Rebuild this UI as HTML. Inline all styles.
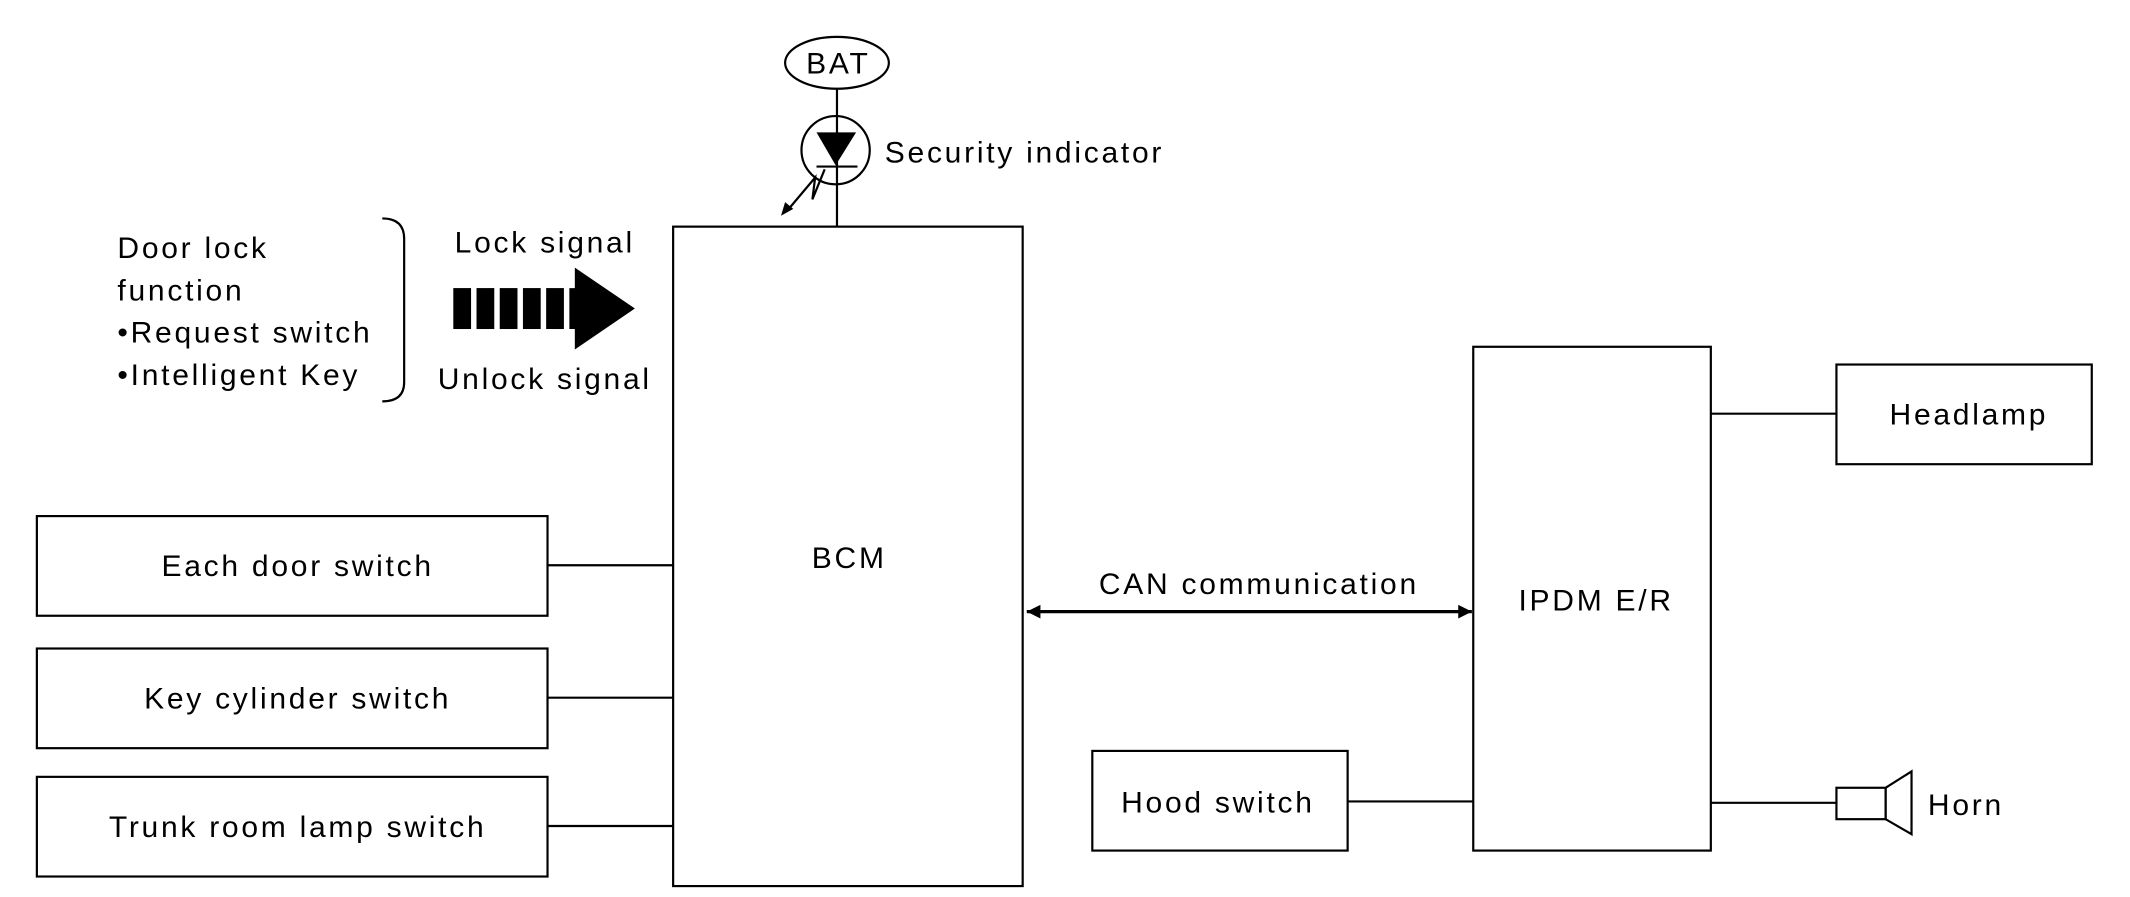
<!DOCTYPE html>
<html><head><meta charset="utf-8"><style>
html,body{margin:0;padding:0;background:#fff;}
svg{display:block;}
text{font-family:"Liberation Sans",sans-serif;font-size:22px;fill:#000;letter-spacing:2px;}
</style></head><body>
<svg width="2130" height="897" viewBox="0 0 1560 657" preserveAspectRatio="none" xmlns="http://www.w3.org/2000/svg">
<defs>
<marker id="ah2" viewBox="0 0 10 10" refX="10" refY="5" markerWidth="16" markerHeight="10" orient="auto-start-reverse" markerUnits="userSpaceOnUse"><path d="M0,0 L10,5 L0,10 z" fill="#000"/></marker>
</defs>
<g fill="none" stroke="#000" stroke-width="1.6">
<ellipse cx="613" cy="46" rx="38" ry="19"/>
<line x1="613" y1="65" x2="613" y2="166"/>
<ellipse cx="612" cy="110" rx="25" ry="25"/>
<line x1="598" y1="122" x2="628" y2="122"/>
<polyline points="604,124 595,146 597,130 576,155"/>
<rect x="493" y="166" width="256" height="483"/>
<path d="M280,160 Q296,160 296,175 L296,280 Q296,294 280,294"/>
<rect x="27" y="378" width="374" height="73"/>
<rect x="27" y="475" width="374" height="73"/>
<rect x="27" y="569" width="374" height="73"/>
<line x1="401" y1="414" x2="493" y2="414"/>
<line x1="401" y1="511" x2="493" y2="511"/>
<line x1="401" y1="605" x2="493" y2="605"/>
<rect x="1079" y="254" width="174" height="369"/>
<rect x="1345" y="267" width="187" height="73"/>
<line x1="1253" y1="303" x2="1345" y2="303"/>
<rect x="800" y="550" width="187" height="73"/>
<line x1="987" y1="587" x2="1079" y2="587"/>
<line x1="1253" y1="588" x2="1345" y2="588"/>
<rect x="1345" y="577" width="36" height="23"/>
<polygon points="1381,577 1400,565 1400,611 1381,600"/>
</g>
<line x1="752" y1="448" x2="1078" y2="448" stroke="#000" stroke-width="2.4" marker-end="url(#ah2)" marker-start="url(#ah2)"/>
<polygon points="598,97 627,97 612,121" fill="#000"/>
<polygon points="572,158 575,148 581,153" fill="#000"/>
<g fill="#000">
<rect x="332" y="211" width="13" height="30"/>
<rect x="349" y="211" width="13" height="30"/>
<rect x="366" y="211" width="13" height="30"/>
<rect x="383" y="211" width="13" height="30"/>
<rect x="400" y="211" width="13" height="30"/>
<polygon points="417,211 421,211 421,196 465,226 421,256 421,241 417,241"/>
</g>
<text x="614" y="54" text-anchor="middle">BAT</text>
<text x="648" y="119">Security indicator</text>
<text x="86" y="189">Door lock</text>
<text x="86" y="220">function</text>
<text x="86" y="251">•Request switch</text>
<text x="86" y="282">•Intelligent Key</text>
<text x="399" y="185" text-anchor="middle">Lock signal</text>
<text x="399" y="285" text-anchor="middle">Unlock signal</text>
<text x="622" y="416" text-anchor="middle">BCM</text>
<text x="218" y="422" text-anchor="middle">Each door switch</text>
<text x="218" y="519" text-anchor="middle">Key cylinder switch</text>
<text x="218" y="613" text-anchor="middle">Trunk room lamp switch</text>
<text x="922" y="435" text-anchor="middle">CAN communication</text>
<text x="1169" y="447" text-anchor="middle">IPDM E/R</text>
<text x="1442" y="311" text-anchor="middle">Headlamp</text>
<text x="892" y="595" text-anchor="middle">Hood switch</text>
<text x="1412" y="597">Horn</text>
</svg>
</body></html>
